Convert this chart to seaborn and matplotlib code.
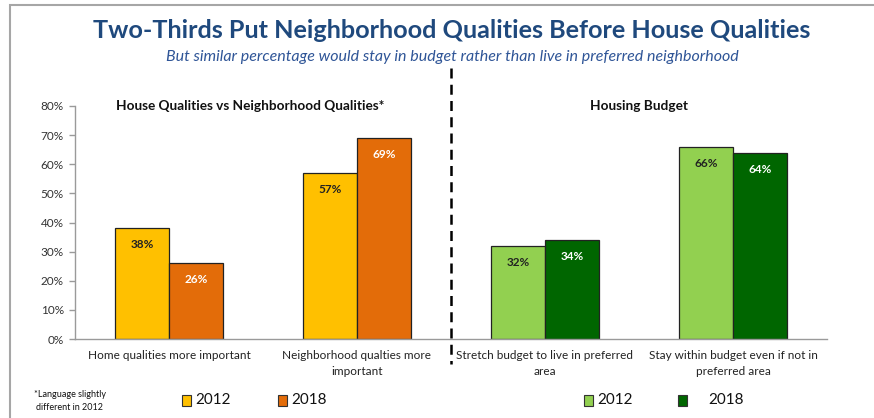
import pandas as pd
import matplotlib.pyplot as plt
import seaborn as sns
from matplotlib.patches import Rectangle
from matplotlib.lines import Line2D

# data
categories = ["Home qualities more important",
              "Neighborhood qualties more\nimportant",
              "Stretch budget to live in preferred\narea",
              "Stay within budget even if not in\npreferred area"]
values_2012 = [38, 57, 32, 66]
values_2018 = [26, 69, 34, 64]
years = ["2012", "2018"]
yticks = [0, 10, 20, 30, 40, 50, 60, 70, 80]

df = pd.DataFrame({
    "category": categories * 2,
    "year": [years[0]] * 4 + [years[1]] * 4,
    "value": values_2012 + values_2018,
})

sns.set_theme(style="white")
plt.rcParams['font.family'] = ['Lato', 'DejaVu Sans']

W, H = 874, 418
fig = plt.figure(figsize=(W / 100, H / 100), dpi=100)
ax = fig.add_axes([75 / W, 1 - 339 / H, (827 - 75) / W, (339 - 106) / H])

yellow, orange = "#FFC000", "#E36C09"
lgreen, dgreen = "#92D050", "#006600"

sns.barplot(data=df, x="category", y="value", hue="year",
            palette=[yellow, orange], width=0.575, ax=ax,
            edgecolor="#222222", linewidth=0.9, legend=False)

# recolour the housing budget bars green
fills = [[yellow, yellow, lgreen, lgreen], [orange, orange, dgreen, dgreen]]
txtc = [["#222222"] * 4, ["white"] * 4]
for ci, cont in enumerate(ax.containers):
    for j, bar in enumerate(cont):
        bar.set_facecolor(fills[ci][j])
        h = bar.get_height()
        ax.annotate(f"{h:.0f}%", (bar.get_x() + bar.get_width() / 2, h),
                    xytext=(0, -12), textcoords="offset points",
                    ha="center", va="center", fontsize=8.5, fontweight="bold",
                    color=txtc[ci][j])

ax.set_xlim(-0.5, 3.5)
ax.set_ylim(0, 80)
ax.set_yticks(yticks)
ax.set_yticklabels([f"{t}%" for t in yticks], fontsize=8.5, color="#333333")
ax.set_xticks(range(4))
ax.set_xticklabels(categories, fontsize=8.5, color="#222222", linespacing=1.5)
ax.set_xticks([-0.5, 0.5, 1.5, 2.5, 3.5], minor=True)
ax.tick_params(axis="x", which="major", length=0, pad=8)
ax.tick_params(axis="x", which="minor", length=4, color="#9A9A9A", width=1, direction="out")
ax.tick_params(axis="y", length=4, color="#9A9A9A", width=1, direction="out", left=True, pad=4)
ax.set_xlabel("")
ax.set_ylabel("")
for s in ["top", "right"]:
    ax.spines[s].set_visible(False)
for s in ["left", "bottom"]:
    ax.spines[s].set_color("#9A9A9A")
    ax.spines[s].set_linewidth(1)

# panel titles
ax.text(0.43, 80, "House Qualities vs Neighborhood Qualities*", ha="center", va="center",
        fontsize=9.8, fontweight="bold", color="#111111")
ax.text(2.5, 80, "Housing Budget", ha="center", va="center",
        fontsize=9.8, fontweight="bold", color="#111111")

# main titles
fig.text(452 / W, 1 - 31 / H, "Two-Thirds Put Neighborhood Qualities Before House Qualities",
         ha="center", va="center", fontsize=18.2, fontweight="bold", color="#1F497D")
fig.text(452 / W, 1 - 57 / H, "But similar percentage would stay in budget rather than live in preferred neighborhood",
         ha="center", va="center", fontsize=11.5, style="italic", color="#2F5597")

# dashed divider
fig.add_artist(Line2D([451 / W, 451 / W], [1 - 68 / H, 1 - 364 / H], color="black",
                      linewidth=1.8, linestyle=(0, (4, 2.5))))

# slide frame
fig.add_artist(Rectangle((10 / W, -0.1), 1.2, 1 - 5 / H + 0.1, fill=False,
                         edgecolor="#A6A6A6", linewidth=1.5))

# legend
legend_items = [(187, yellow, "2012"), (283, orange, "2018"),
                (589, lgreen, "2012"), (683, dgreen, "2018")]
text_x = [195, 291, 597, 708]
for (x, c, lab), tx in zip(legend_items, text_x):
    fig.add_artist(Rectangle(((x - 5) / W, 1 - 406 / H), 9 / W, 11 / H,
                             facecolor=c, edgecolor="#333333", linewidth=0.8))
    fig.text(tx / W, 1 - 400 / H, lab, ha="left", va="center", fontsize=11, color="#111111")

fig.text(70 / W, 1 - 401 / H, "*Language slightly\ndifferent in 2012", ha="center", va="center",
         fontsize=6.5, color="#111111", linespacing=1.5)

fig.savefig("out.png", dpi=100)
